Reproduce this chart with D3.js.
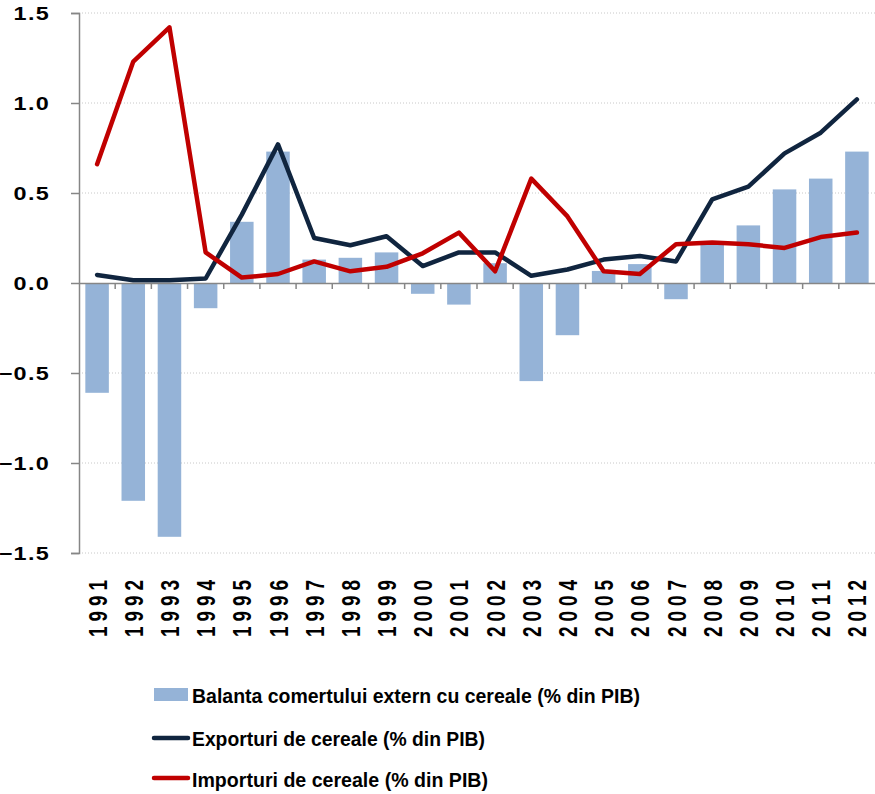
<!DOCTYPE html>
<html>
<head>
<meta charset="utf-8">
<script src="https://cdn.jsdelivr.net/npm/d3@7"></script>
<style>
  body { margin: 0; background: #fff; }
  text { font-family: "Liberation Sans", Arial, sans-serif; font-weight: bold; fill: #000; }
</style>
</head>
<body>
<script>
var w = 875;
var h = 794;

var years = ["1991","1992","1993","1994","1995","1996","1997","1998","1999","2000","2001",
  "2002","2003","2004","2005","2006","2007","2008","2009","2010","2011","2012"];
var balanta = [-0.61,-1.21,-1.41,-0.14,0.34,0.73,0.13,0.14,0.17,-0.06,-0.12,
  0.11,-0.545,-0.29,0.067,0.105,-0.09,0.23,0.32,0.52,0.58,0.73];
var exporturi = [0.045,0.015,0.015,0.025,0.38,0.77,0.25,0.21,0.26,0.094,0.17,
  0.17,0.04,0.075,0.13,0.15,0.12,0.465,0.535,0.72,0.835,1.02];
var importuri = [0.66,1.23,1.42,0.17,0.03,0.05,0.12,0.065,0.09,0.165,0.28,
  0.065,0.58,0.37,0.065,0.05,0.215,0.225,0.215,0.195,0.255,0.28];
var yTicks = [-1.5,-1.0,-0.5,0.0,0.5,1.0,1.5];
var legendLabels = ["Balanta comertului extern cu cereale (% din PIB)",
  "Exporturi de cereale (% din PIB)", "Importuri de cereale (% din PIB)"];

var plotLeft = 79, plotRight = 875, plotTop = 13, plotBottom = 553;

var xScale = d3.scaleBand()
  .domain(years)
  .range([plotLeft, plotRight])
  .paddingInner(0.35)
  .paddingOuter(0.175);

var xBand = d3.scaleBand().domain(years).range([plotLeft, plotRight]);

var yScale = d3.scaleLinear()
  .domain([-1.5, 1.5])
  .range([plotBottom, plotTop]);

var svg = d3.select("body")
  .append("svg")
  .attr("width", w)
  .attr("height", h);

// grid
svg.selectAll("line.grid")
  .data(yTicks.filter(function(d) { return d !== 0; }))
  .enter()
  .append("line")
  .attr("class", "grid")
  .attr("x1", plotLeft)
  .attr("x2", plotRight)
  .attr("y1", function(d) { return yScale(d); })
  .attr("y2", function(d) { return yScale(d); })
  .attr("stroke", "#c8c8c8")
  .attr("stroke-width", 1)
  .attr("stroke-dasharray", "1,2");

// bars
svg.selectAll("rect.bar")
  .data(balanta)
  .enter()
  .append("rect")
  .attr("class", "bar")
  .attr("x", function(d, i) { return xScale(years[i]); })
  .attr("y", function(d) { return yScale(Math.max(0, d)); })
  .attr("width", xScale.bandwidth())
  .attr("height", function(d) { return Math.abs(yScale(d) - yScale(0)); })
  .attr("fill", "#95b3d7");

// y axis
var yAxis = d3.axisLeft(yScale).tickValues(yTicks).tickSize(8).tickFormat("");
var gy = svg.append("g")
  .attr("transform", "translate(" + plotLeft + ",0)")
  .call(yAxis);
gy.select(".domain").attr("stroke", "#868686").attr("stroke-width", 1.5);
gy.selectAll(".tick line").attr("stroke", "#868686").attr("stroke-width", 1.5);

svg.selectAll("text.ylab")
  .data(yTicks)
  .enter()
  .append("text")
  .attr("class", "ylab")
  .attr("transform", function(d) { return "translate(50," + (yScale(d) + 6.5) + ") scale(1.3,1)"; })
  .attr("text-anchor", "end")
  .style("font-size", "18px")
  .style("letter-spacing", "1px")
  .text(function(d) { return d3.format(".1f")(d); });

// x axis
var xAxis = d3.axisBottom(xBand).tickSize(0).tickFormat("");
var gx = svg.append("g")
  .attr("transform", "translate(0," + yScale(0) + ")")
  .call(xAxis);
gx.select(".domain").attr("stroke", "#868686").attr("stroke-width", 1.5);
svg.selectAll("line.xtick")
  .data(years.slice(1))
  .enter()
  .append("line")
  .attr("class", "xtick")
  .attr("x1", function(d) { return xBand(d); })
  .attr("x2", function(d) { return xBand(d); })
  .attr("y1", yScale(0))
  .attr("y2", yScale(0) + 6)
  .attr("stroke", "#868686")
  .attr("stroke-width", 1.5);

svg.selectAll("text.xlab")
  .data(years)
  .enter()
  .append("text")
  .attr("class", "xlab")
  .attr("transform", function(d) {
    return "translate(" + (xBand(d) + xBand.bandwidth() / 2) + ",580) scale(1.4,1) rotate(-90)";
  })
  .attr("text-anchor", "end")
  .attr("dy", "0.36em")
  .attr("textLength", 57)
  .attr("lengthAdjust", "spacing")
  .style("font-size", "19px")
  .text(function(d) { return d; });

// lines
var line = d3.line()
  .x(function(d, i) { return xBand(years[i]) + xBand.bandwidth() / 2; })
  .y(function(d) { return yScale(d); });

svg.append("path")
  .datum(exporturi)
  .attr("d", line)
  .attr("fill", "none")
  .attr("stroke", "#10253f")
  .attr("stroke-width", 4.5)
  .attr("stroke-linejoin", "round")
  .attr("stroke-linecap", "round");

svg.append("path")
  .datum(importuri)
  .attr("d", line)
  .attr("fill", "none")
  .attr("stroke", "#c00000")
  .attr("stroke-width", 4.5)
  .attr("stroke-linejoin", "round")
  .attr("stroke-linecap", "round");

// legend
svg.append("rect")
  .attr("x", 154).attr("y", 688)
  .attr("width", 34).attr("height", 13)
  .attr("fill", "#95b3d7");
svg.append("line")
  .attr("x1", 154).attr("x2", 188).attr("y1", 738).attr("y2", 738)
  .attr("stroke", "#10253f").attr("stroke-width", 4.5).attr("stroke-linecap", "round");
svg.append("line")
  .attr("x1", 154).attr("x2", 188).attr("y1", 778).attr("y2", 778)
  .attr("stroke", "#c00000").attr("stroke-width", 4.5).attr("stroke-linecap", "round");

var legendY = [703, 746, 787];
var legendW = [448, 293, 296];
svg.selectAll("text.leg")
  .data(legendLabels)
  .enter()
  .append("text")
  .attr("class", "leg")
  .attr("x", 192)
  .attr("y", function(d, i) { return legendY[i]; })
  .attr("textLength", function(d, i) { return legendW[i]; })
  .attr("lengthAdjust", "spacingAndGlyphs")
  .style("font-size", "21px")
  .text(function(d) { return d; });
</script>
</body>
</html>
